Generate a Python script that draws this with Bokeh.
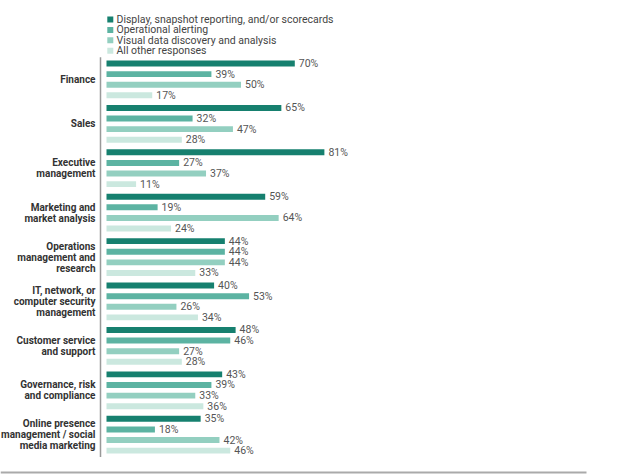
from bokeh.plotting import figure
from bokeh.models import Range1d, ColumnDataSource
from bokeh.core.properties import value
from bokeh.embed import file_html
from bokeh.resources import INLINE

categories = ["Finance", "Sales", "Executive\nmanagement", "Marketing and\nmarket analysis",
              "Operations\nmanagement and\nresearch",
              "IT, network, or\ncomputer security\nmanagement",
              "Customer service\nand support", "Governance, risk\nand compliance",
              "Online presence\nmanagement / social\nmedia marketing"]
series = ["Display, snapshot reporting, and/or scorecards", "Operational alerting",
          "Visual data discovery and analysis", "All other responses"]
display_vals = [70, 65, 81, 59, 44, 40, 48, 43, 35]
alerting_vals = [39, 32, 27, 19, 44, 53, 46, 39, 18]
visual_vals = [50, 47, 37, 64, 44, 26, 27, 33, 42]
other_vals = [17, 28, 11, 24, 33, 34, 28, 36, 46]
colors = ["#16806f", "#5cb3a2", "#93cfc0", "#cbe8df"]

W, H = 641, 474
PX_PER_PCT = 2.69
X0_PX = 106
UNIT_PX = 10.6
Y0_PX = 63
GROUP_STEP = 4.19

FONT = "Roboto, 'Liberation Sans', sans-serif"

p = figure(width=W, height=H, output_backend="svg", toolbar_location=None,
           x_range=Range1d(-X0_PX / PX_PER_PCT, (W - X0_PX) / PX_PER_PCT),
           y_range=Range1d((H - Y0_PX) / UNIT_PX, -Y0_PX / UNIT_PX),
           min_border=0, outline_line_color=None)
p.axis.visible = False
p.grid.visible = False

all_vals = [display_vals, alerting_vals, visual_vals, other_vals]
for j, (name, vals, col) in enumerate(zip(series, all_vals, colors)):
    ys = [i * GROUP_STEP + j for i in range(len(categories))]
    src = ColumnDataSource(dict(y=ys, v=vals, lab=[f"{v}%" for v in vals]))
    p.hbar(y="y", right="v", left=0, height=0.56, source=src, fill_color=col, line_color=None)
    p.text(x="v", y="y", text="lab", source=src, x_offset=4, text_align="left",
           text_baseline="middle", text_font=value(FONT), text_font_size="10.5px",
           text_color="#555555")

# category labels
cy = [i * GROUP_STEP + 1.5 for i in range(len(categories))]
p.text(x=[0] * len(categories), y=cy, text=categories, x_offset=-11, text_align="right",
       text_baseline="middle", text_font=value(FONT), text_font_size="10px",
       text_font_style="bold", text_color="#333333", text_line_height=1.0)

# vertical axis line
last_y = (len(categories) - 1) * GROUP_STEP + 3
p.segment(x0=[-6 / PX_PER_PCT], x1=[-6 / PX_PER_PCT], y0=[-0.6], y1=[last_y + 0.6],
          line_color="#999999", line_width=1.5)
# bottom rule
p.segment(x0=[-X0_PX / PX_PER_PCT], x1=[(586 - X0_PX) / PX_PER_PCT],
          y0=[(472 - Y0_PX) / UNIT_PX], y1=[(472 - Y0_PX) / UNIT_PX],
          line_color="#aaaaaa", line_width=2)

# legend (drawn manually for tight row spacing)
LEG_Y0 = (19 - Y0_PX) / UNIT_PX
LEG_STEP = 10.4 / UNIT_PX
ly = [LEG_Y0 + k * LEG_STEP for k in range(len(series))]
p.rect(x=[3.8 / PX_PER_PCT] * len(series), y=ly, width=6, height=6,
       width_units="screen", height_units="screen", fill_color=colors, line_color=None)
p.text(x=[0] * len(series), y=ly, text=series, x_offset=10, text_align="left",
       text_baseline="middle", text_font=value(FONT), text_font_size="10.5px",
       text_color="#444444")

open("out.html", "w").write(file_html(p, INLINE))
